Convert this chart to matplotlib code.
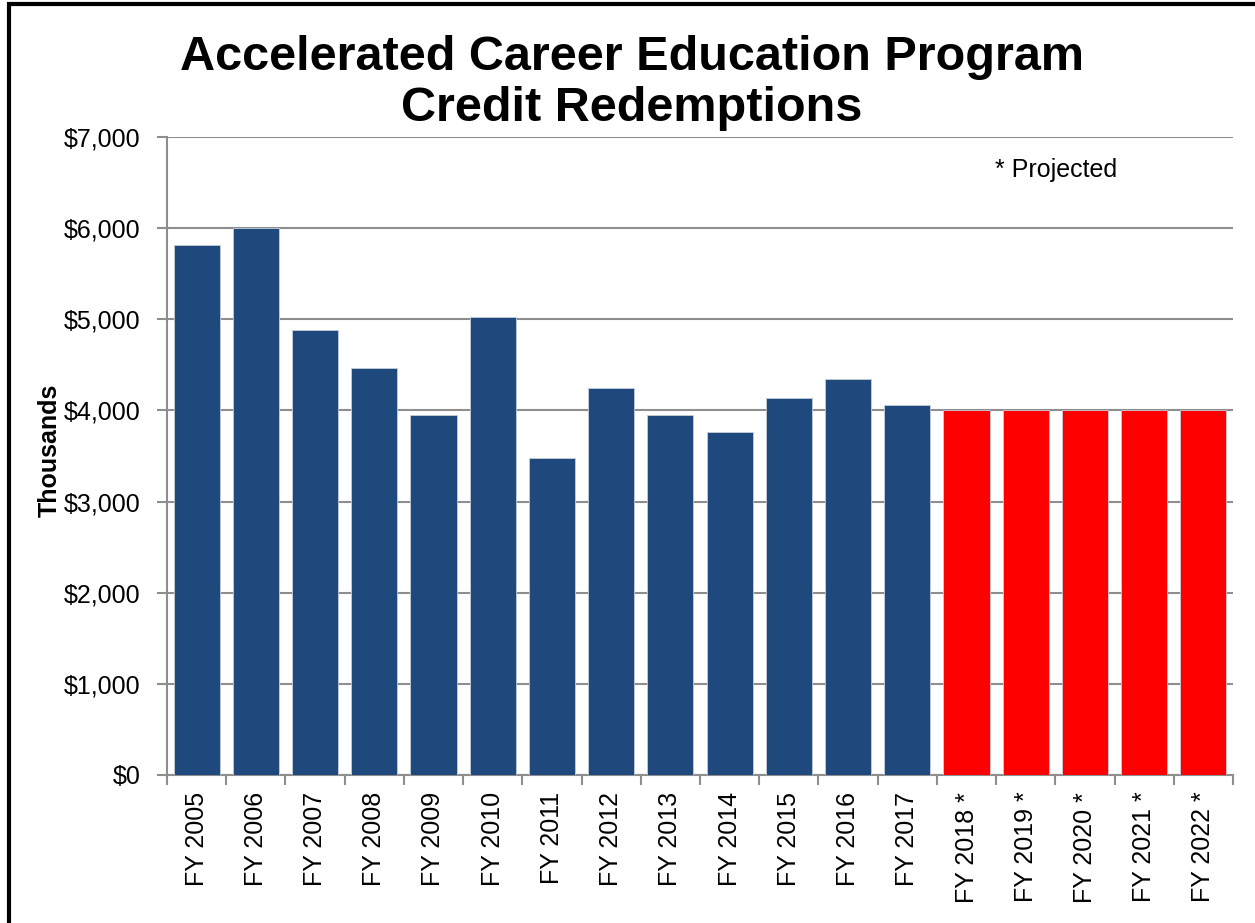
import matplotlib.pyplot as plt
from matplotlib.patches import Rectangle
from matplotlib.ticker import FuncFormatter, MultipleLocator
import numpy as np

plt.rcParams["font.family"] = ["Liberation Sans", "DejaVu Sans"]

years = ["FY 2005", "FY 2006", "FY 2007", "FY 2008", "FY 2009", "FY 2010",
         "FY 2011", "FY 2012", "FY 2013", "FY 2014", "FY 2015", "FY 2016",
         "FY 2017", "FY 2018 *", "FY 2019 *", "FY 2020 *", "FY 2021 *",
         "FY 2022 *"]
redemptions = [5815, 6000, 4880, 4470, 3955, 5020, 3480, 4250, 3955, 3760,
               4135, 4345, 4060, 4000, 4000, 4000, 4000, 4000]
projected = [False] * 13 + [True] * 5

blue, red, grid_gray = "#1f497d", "#ff0000", "#8e8e8e"

W, H = 1255, 923
fig = plt.figure(figsize=(W / 100, H / 100), dpi=100)
ax = fig.add_axes([167 / W, 1 - 775 / H, (1233 - 167) / W, (775 - 137) / H])

x = np.arange(len(years))
colors = [red if p else blue for p in projected]
ax.bar(x, redemptions, width=0.78, color=colors, edgecolor="#c5cfdc",
       linewidth=0.6, zorder=3)

ax.set_xlim(-0.5, len(years) - 0.5)
ax.set_ylim(0, 7000)
ax.yaxis.set_major_locator(MultipleLocator(1000))
ax.yaxis.set_major_formatter(FuncFormatter(lambda v, _: f"${v:,.0f}"))
ax.grid(axis="y", color=grid_gray, linewidth=1.5, zorder=0)
ax.set_axisbelow(True)

ax.set_xticks(x)
ax.set_xticklabels(years, rotation=90)
ax.set_xticks(np.arange(len(years) + 1) - 0.5, minor=True)
ax.tick_params(axis="x", which="major", length=0, pad=12, labelsize=18)
ax.tick_params(axis="x", which="minor", length=7, width=1.5, color=grid_gray)
ax.tick_params(axis="y", length=7, width=1.5, color=grid_gray, pad=12,
               labelsize=18)

for side in ["top", "right"]:
    ax.spines[side].set_visible(False)
for side in ["left", "bottom"]:
    ax.spines[side].set_color(grid_gray)
    ax.spines[side].set_linewidth(1.5)

fig.text(632 / W, 1 - 70 / H, "Accelerated Career Education Program",
         ha="center", va="baseline", fontsize=35, fontweight="bold")
fig.text(632 / W, 1 - 121 / H, "Credit Redemptions",
         ha="center", va="baseline", fontsize=35, fontweight="bold")
fig.text(50 / W, 1 - 450 / H, "Thousands", rotation=90, ha="center",
         va="center", fontsize=18, fontweight="bold")
fig.text(995 / W, 1 - 177 / H, "* Projected", ha="left", va="baseline",
         fontsize=18)

# black frame; right and bottom edges fall outside the image
fig.patches.append(Rectangle((8.5 / W, -0.05), 1.1, 1 - 4 / H + 0.05,
                             transform=fig.transFigure, fill=False,
                             edgecolor="black", linewidth=3))

fig.savefig("out.png", dpi=100)
